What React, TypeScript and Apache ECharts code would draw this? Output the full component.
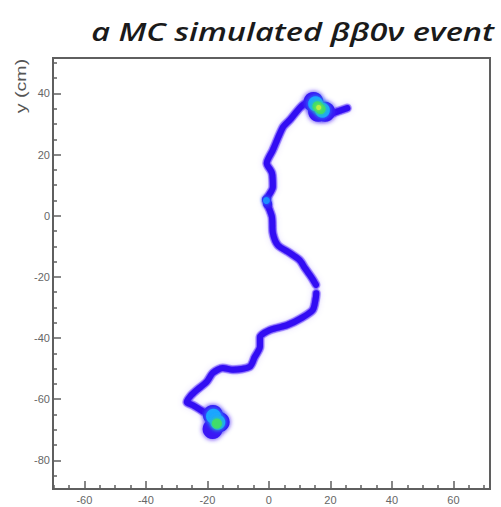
import React, { useEffect, useRef } from "react";
import * as echarts from "echarts";

const TITLE = "a MC simulated ββ0ν event";
const Y_NAME = "y (cm)";

const X_RANGE = [-70.2, 71.9];
const Y_RANGE = [-89.4, 51.6];

const xMajorTicks = [-60, -40, -20, 0, 20, 40, 60];
const xMinorTicks = [-70, -65, -55, -50, -45, -35, -30, -25, -15, -10, -5, 5, 10, 15, 25, 30, 35, 45, 50, 55, 65, 70];
const yMajorTicks = [-80, -60, -40, -20, 0, 20, 40];
const yMinorTicks = [-85, -75, -70, -65, -55, -50, -45, -35, -30, -25, -15, -10, -5, 5, 10, 15, 25, 30, 35, 45, 50];

// track path (x, y in cm), from the lower end to the upper end
const trackLower: number[][] = [
  [-18.5, -71], [-17.5, -66], [-21.5, -64], [-24.7, -62], [-26.7, -61], [-25.5, -59],
  [-23.4, -57], [-20.2, -54.3], [-18.2, -51.4], [-15, -49.8], [-11.7, -50.4], [-6.2, -49.4],
  [-4.6, -46.2], [-2.9, -42.9], [-2.9, -39.7], [0.3, -37.4], [5.9, -35.8], [10.7, -33.4],
  [14.3, -30.8], [15.3, -26.6], [15.4, -25.4],
];
const trackUpper: number[][] = [
  [15.3, -22.6], [14, -20.4], [11.7, -17.1], [10, -14.5], [6.8, -12.2], [2.9, -9.6],
  [1.3, -5.7], [1, -0.4], [-0.7, 5.1], [1.3, 9.4], [1, 14], [-0.7, 17.2], [1.3, 21.5],
  [4.6, 29], [6.8, 31.3], [11, 36.2], [15, 37.5], [16, 35.2], [19, 33], [22, 34], [25.5, 35.2],
];

// energy deposits (blobs) at the two track ends
const blobBase = [[14.5, 37.2], [18.3, 34], [16, 34], [-18.2, -65.2], [-16, -67.5], [-18.3, -69.8]];
const blobCyan = [[15.2, 36.6], [17.4, 34.5], [-18, -65.6], [-16.6, -67.6]];
const blobGreen = [[15.8, 35.8], [16.8, 34.9], [-16.9, -68]];
const blobYellow = [[16.2, 35.4]];
// small deposit in the middle of the track
const midBase = [[-0.8, 5.3], [-0.4, 3.8]];
const midCyan = [[-0.8, 5]];

function App() {
  const ref = useRef<HTMLDivElement>(null);
  useEffect(() => {
    if (!ref.current) return;
    const chart = echarts.init(ref.current, undefined, { renderer: "svg" });
    const frame = "#5f5f5f";
    const labelStyle = { color: "#666", fontSize: 11, fontFamily: "Liberation Sans, Arial, sans-serif" };
    const trackLayer = (data: any, width: number, color: string, blur: number, z: number) => ({
      type: "line",
      data,
      showSymbol: false,
      symbol: "none",
      smooth: 0.25,
      z,
      lineStyle: { width, color, cap: "round", join: "round", shadowBlur: blur, shadowColor: color },
    });
    const blobLayer = (data: any, size: number, color: string, blur: number, z: number) => ({
      type: "scatter",
      data,
      symbolSize: size,
      z,
      itemStyle: { color, shadowBlur: blur, shadowColor: color, opacity: 1 },
    });
    chart.setOption({
      animation: false,
      backgroundColor: "#fff",
      graphic: [
        {
          type: "text",
          x: 494,
          y: 31,
          scaleX: 1.25,
          style: {
            text: TITLE,
            fill: "#1a1a1a",
            font: "italic 600 26px 'Open Sans'",
            align: "right",
            verticalAlign: "middle",
          },
        },
        {
          type: "text",
          x: 21,
          y: 86,
          rotation: Math.PI / 2,
          scaleX: 1.4,
          style: { text: Y_NAME, fill: "#555", font: "14px 'Liberation Sans', Arial, sans-serif", align: "center", verticalAlign: "middle" },
        },
      ],
      grid: { left: 53, right: 11, top: 58, bottom: 18, show: true, borderColor: frame, borderWidth: 2, backgroundColor: "transparent" },
      xAxis: [
        {
          type: "value", min: X_RANGE[0], max: X_RANGE[1], position: "bottom",
          splitLine: { show: false },
          axisLine: { show: true, onZero: false, lineStyle: { color: frame, width: 2 } },
          axisTick: { show: true, inside: true, length: 8, customValues: xMajorTicks, lineStyle: { color: frame, width: 1.5 } },
          axisLabel: { show: true, margin: 5, customValues: xMajorTicks, ...labelStyle },
        },
        {
          type: "value", min: X_RANGE[0], max: X_RANGE[1], position: "bottom", gridIndex: 0,
          splitLine: { show: false },
          axisLine: { show: false, onZero: false },
          axisTick: { show: true, inside: true, length: 4, customValues: xMinorTicks, lineStyle: { color: frame, width: 1.5 } },
          axisLabel: { show: false },
        },
      ],
      yAxis: [
        {
          type: "value", min: Y_RANGE[0], max: Y_RANGE[1], position: "left",
          splitLine: { show: false },
          axisLine: { show: true, onZero: false, lineStyle: { color: frame, width: 2 } },
          axisTick: { show: true, inside: true, length: 8, customValues: yMajorTicks, lineStyle: { color: frame, width: 1.5 } },
          axisLabel: { show: true, margin: 3, customValues: yMajorTicks, ...labelStyle },
        },
        {
          type: "value", min: Y_RANGE[0], max: Y_RANGE[1], position: "left", gridIndex: 0,
          splitLine: { show: false },
          axisLine: { show: false, onZero: false },
          axisTick: { show: true, inside: true, length: 4, customValues: yMinorTicks, lineStyle: { color: frame, width: 1.5 } },
          axisLabel: { show: false },
        },
      ],
      series: [
        trackLayer(trackLower, 9, "rgba(130,100,255,0.5)", 5, 1),
        trackLayer(trackUpper, 9, "rgba(130,100,255,0.5)", 5, 1),
        trackLayer(trackLower, 6, "#3310f3", 2, 2),
        trackLayer(trackUpper, 6, "#3310f3", 2, 2),
        blobLayer(blobBase, 20, "#3a18f5", 5, 3),
        blobLayer(blobCyan, 15, "#1aa6ff", 5, 4),
        blobLayer(blobGreen, 10, "#3fdc6a", 4, 5),
        blobLayer(blobYellow, 5, "#b8f040", 3, 6),
        blobLayer(midBase, 9, "#3414f4", 3, 3),
        blobLayer(midCyan, 7, "#1a8cff", 4, 4),
      ],
    });
    return () => chart.dispose();
  }, []);
  return <div ref={ref} style={{ width: 501, height: 507, position: "absolute", left: 0, top: 0 }} />;
}

export default App;
